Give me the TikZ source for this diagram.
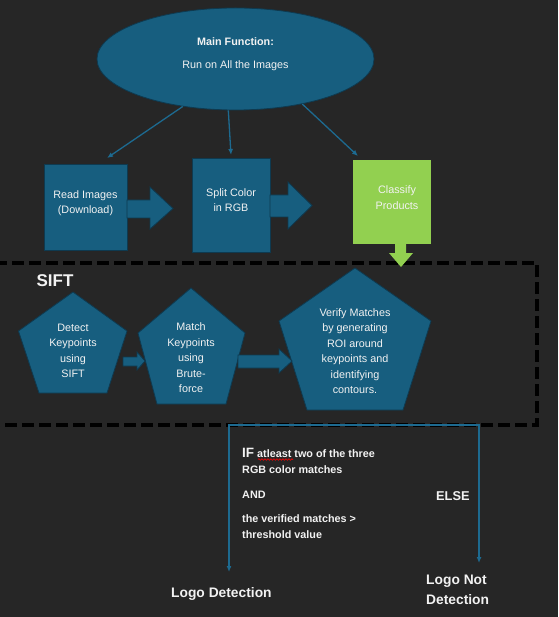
\documentclass[tikz,border=0pt]{standalone}
\usepackage{fontspec}
\setmainfont{Liberation Sans}
\usetikzlibrary{arrows.meta,shapes.geometric,decorations.pathmorphing}
\definecolor{bg}{HTML}{262626}
\definecolor{blu}{HTML}{175E7F}
\definecolor{bord}{HTML}{0E3A50}
\definecolor{lin}{HTML}{1D6A90}
\definecolor{grn}{HTML}{92D050}
\definecolor{txt}{HTML}{F2F2F2}
\begin{document}
\begin{tikzpicture}[x=1pt,y=-1pt,
  shapefill/.style={fill=blu,draw=bord,line width=0.8pt},
  body/.style={text=txt,font=\fontsize{10.8}{15.5}\selectfont,align=center,inner sep=0},
  boldtxt/.style={text=txt,font=\bfseries\fontsize{10.8}{16}\selectfont,inner sep=0,anchor=base west},
  bigtxt/.style={text=txt,font=\bfseries\fontsize{13.8}{20}\selectfont,inner sep=0,anchor=base west},
  conn/.style={draw=lin,line width=1.3pt,-{Latex[length=6pt,width=5pt]}},
  blockarrow/.style={fill=blu,draw=bord,line width=0.8pt},
  sift/.style={draw=black,line width=3.5pt,dash pattern=on 12pt off 5pt},
  ]
\fill[bg] (0,0) rectangle (558,617);
\useasboundingbox (0,0) rectangle (558,617);

% main ellipse
\node[ellipse,shapefill,minimum width=277pt,minimum height=102pt,inner sep=0] (main) at (235.5,59) {};
\node[text=txt,font=\bfseries\fontsize{10.8}{14}\selectfont,inner sep=0] (mainA) at (235.5,42) {Main Function:};
\node[body] (mainB) at (235.5,66) {Run on All the Images};

% boxes
\node[shapefill,minimum width=83pt,minimum height=86pt,inner sep=0] (read) at (85.5,207) {};
\node[body] (readtxt) at (85.5,203) {Read Images\\(Download)};
\node[shapefill,minimum width=78pt,minimum height=94pt,inner sep=0] (split) at (231,205) {};
\node[body] (splittxt) at (231,200) {Split Color\\in RGB};
\node[fill=grn,minimum width=78pt,minimum height=84pt,inner sep=0] (classify) at (391.5,202) {};
\node[body] (classtxt) at (397,197.5) {Classify\\Products};

% connectors from main
\coordinate (t1) at (107,158);
\coordinate (t2) at (231,155);
\coordinate (t3) at (358,156);
\draw[conn] (main.222) -- (t1);
\draw[conn] (main.262) -- (t2);
\draw[conn] (main.326) -- (t3);

% block arrows
\draw[blockarrow] (127,200) -- (150,200) -- (150,187) -- (173,208.5) -- (150,229) -- (150,218) -- (127,218) -- cycle;
\draw[blockarrow] (270,195) -- (288,195) -- (288,182) -- (312,205.5) -- (288,229) -- (288,217) -- (270,217) -- cycle;

% SIFT dashed frame
\draw[sift] (-5,263) -- (537,263) -- (537,425) -- (-5,425);
\node[text=txt,font=\bfseries\fontsize{17}{20}\selectfont,inner sep=0] (siftlbl) at (55,281) {SIFT};

% green arrow
\fill[grn] (395,244) -- (406,244) -- (406,253) -- (413,253) -- (401,267) -- (389,253) -- (395,253) -- cycle;

% pentagons
\draw[shapefill] (73,292) -- (127,331) -- (107,393) -- (39,393) -- (18.5,331) -- cycle;
\draw[shapefill] (191,288) -- (245,333) -- (226,404) -- (157,404) -- (138,333) -- cycle;
\draw[shapefill] (355,268) -- (431,321) -- (403,410) -- (307,410) -- (279,321) -- cycle;
\node[body] (p1) at (73,351) {Detect\\Keypoints\\using\\SIFT};
\node[body] (p2) at (191,358) {Match\\Keypoints\\using\\Brute-\\force};
\node[body] (p3) at (355,351) {Verify Matches\\by generating\\ROI around\\keypoints and\\identifying\\contours.};

% small block arrows
\draw[blockarrow] (123,357) -- (137,357) -- (137,352) -- (145,361) -- (137,370) -- (137,366) -- (123,366) -- cycle;
\draw[blockarrow] (238,355) -- (279,355) -- (279,349) -- (292,361) -- (279,373) -- (279,368) -- (238,368) -- cycle;

% decision connectors
\coordinate (fork) at (354,425);
\coordinate (ldend) at (229,572);
\coordinate (lndend) at (479,563);
\draw[conn,line width=1.5pt] (fork) -| (ldend);
\draw[conn,line width=1.5pt] (fork) -| (lndend);

% condition text
\node[boldtxt] (if1) at (242,457) {{\fontsize{13.5}{16}\selectfont IF} atleast two of the three};
\draw[red,line width=0.6pt,decorate,decoration={snake,amplitude=0.8pt,segment length=3pt}] (258,459.5) -- (293,459.5);
\node[boldtxt] (if2) at (242,473) {RGB color matches};
\node[boldtxt] (and) at (242,498) {AND};
\node[boldtxt] (if3) at (242,522) {the verified matches >};
\node[boldtxt] (if4) at (242,538) {threshold value};
\node[bigtxt,font=\bfseries\fontsize{12.8}{16}\selectfont] (else) at (436,500) {ELSE};

\node[bigtxt] (ld) at (171,597) {Logo Detection};
\node[bigtxt] (lnd1) at (426,584) {Logo Not};
\node[bigtxt] (lnd2) at (426,604) {Detection};
\end{tikzpicture}
\end{document}
